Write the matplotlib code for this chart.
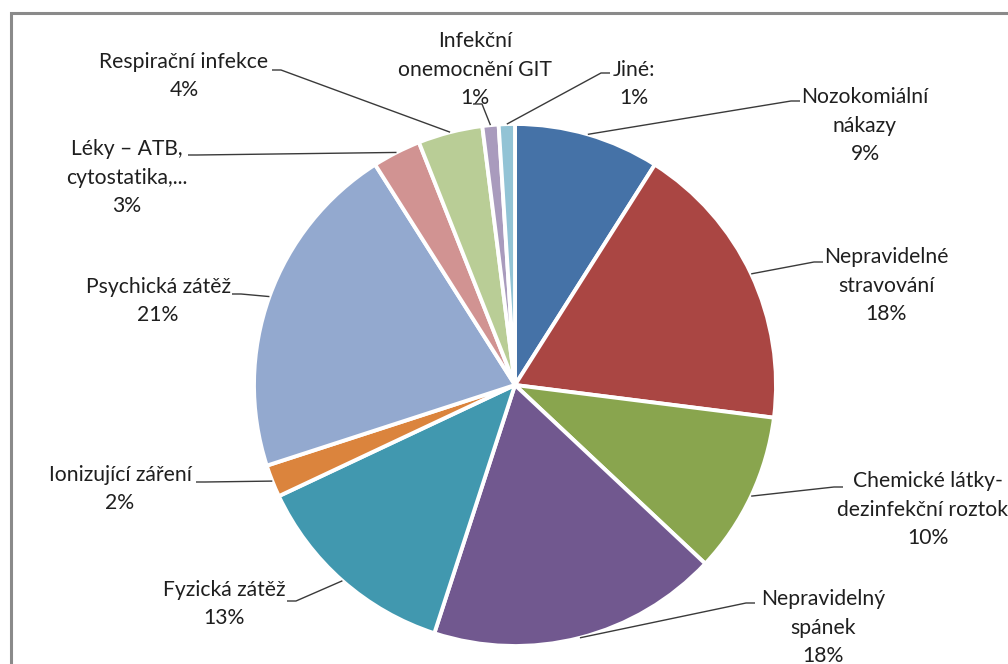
import numpy as np
import matplotlib
matplotlib.use("Agg")
import matplotlib.pyplot as plt

# Příčiny zdravotních potíží – podíly v procentech
categories = [
    "Nozokomiální\nnákazy",
    "Nepravidelné\nstravování",
    "Chemické látky-\ndezinfekční roztoky",
    "Nepravidelný\nspánek",
    "Fyzická zátěž",
    "Ionizující záření",
    "Psychická zátěž",
    "Léky – ATB,\ncytostatika,...",
    "Respirační infekce",
    "Infekční\nonemocnění GIT",
    "Jiné:",
]
shares = [9, 18, 10, 18, 13, 2, 21, 3, 4, 1, 1]

colors = [
    "#4572A7", "#AA4643", "#89A54E", "#71588F", "#4198AF", "#DB843D",
    "#93A9CF", "#D19392", "#B9CD96", "#A99BBD", "#92C3D5",
]

W, H = 1008, 664
fig = plt.figure(figsize=(W / 100, H / 100), dpi=100)
ax = fig.add_axes([0, 0, 1, 1])

def px(x, y):
    """Pixel position (from the top-left corner) to axes data coordinates."""
    return x, H - y

cx, cy = px(515, 385)
R = 261

wedges, _ = ax.pie(
    shares, colors=colors, startangle=90, counterclock=False,
    radius=R, center=(cx, cy), explode=[0.012] * len(shares),
    wedgeprops=dict(edgecolor="white", linewidth=2.8),
)

ax.set_xlim(0, W)
ax.set_ylim(0, H)
ax.set_aspect("auto")
ax.axis("off")

# Chart-area frame (runs off the right and bottom edges)
ax.plot([11, 11, W + 5], [-5, H - 13, H - 13], color="#8a8a8a", lw=2.2,
        solid_joinstyle="miter", clip_on=False)

# Label layout: block centre x, first-line centre y, leader start, direction
label_layout = [
    (865, 98, (800, 101), -1),
    (886, 258, (823, 262), -1),
    (928, 482, (843, 487), -1),
    (823, 600, (755, 603), -1),
    (224, 590, (287, 601), 1),
    (120, 475, (196, 482), 1),
    (158, 287, (232, 294), 1),
    (127, 150, (188, 155), 1),
    (184, 62, (272, 70), 1),
    (475, 42, (473, 104), 1),
    (634, 70, (610, 73), -1),
]

line_h = 27.5
font = dict(family=["Lato", "DejaVu Sans"], fontsize=15.2, color="#1f1f1f")

for w, name, share, (tx, ty, (ax0, ay0), d) in zip(
        wedges, categories, shares, label_layout):
    text = f"{name}\n{share}%"
    n = text.count("\n") + 1
    bx, by = px(tx, ty + (n - 1) * line_h / 2)
    ax.text(bx, by, text, ha="center", va="center", linespacing=1.52, **font)

    # leader line from the label to the slice rim at its mid-angle
    mid = np.deg2rad((w.theta1 + w.theta2) / 2)
    wx = w.center[0] + w.r * np.cos(mid)
    wy = w.center[1] + w.r * np.sin(mid)
    sx, sy = px(ax0, ay0)
    ax.plot([sx, sx + d * 9, wx], [sy, sy, wy], color="#3a3a3a", lw=1.0,
            solid_capstyle="butt", zorder=5)

fig.savefig("out.png", dpi=100)
